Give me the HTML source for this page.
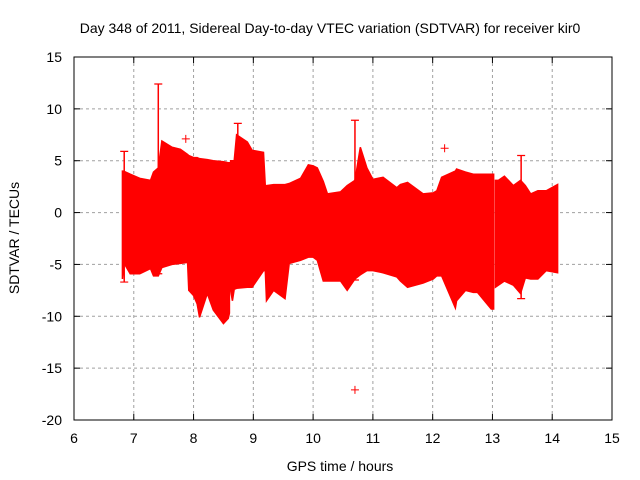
<!DOCTYPE html>
<html><head><meta charset="utf-8">
<style>
body{margin:0;background:#fff;}
svg{display:block;font-family:"Liberation Sans",Arial,sans-serif;}
</style></head>
<body>
<svg id="chart" width="640" height="480" viewBox="0 0 640 480" xmlns="http://www.w3.org/2000/svg">
<rect x="0" y="0" width="640" height="480" fill="#fff"/>
<text x="330" y="33" font-size="14" text-anchor="middle" fill="#000">Day 348 of 2011, Sidereal Day-to-day VTEC variation (SDTVAR) for receiver kir0</text>
<text x="340" y="471" font-size="14" text-anchor="middle" fill="#000">GPS time / hours</text>
<text x="19" y="238" font-size="14" text-anchor="middle" fill="#000" transform="rotate(-90 19 238)">SDTVAR / TECUs</text>
<g id="grid"></g>
<g id="ticks"></g>
<g id="data"></g>
<rect x="74" y="57" width="538" height="363" fill="none" stroke="#000" stroke-width="1"/>
</svg>
<script>
const xTicks=[6,7,8,9,10,11,12,13,14,15];
const yTicks=[15,10,5,0,-5,-10,-15,-20];
const times=[6.81,6.83,6.94,7.1,7.28,7.33,7.41,7.47,7.64,7.78,7.9,7.92,8.0,8.06,8.1,8.23,8.33,8.5,8.58,8.6,
8.62,8.65,8.68,8.72,8.9,8.98,9.17,9.2,9.22,9.34,9.53,9.6,9.79,9.92,10.0,10.07,10.17,10.24,10.46,10.57,10.7,10.79,10.9,11.0,11.17,11.4,11.46,11.58,11.84,12.01,12.07,12.15,12.38,12.4,12.55,12.68,12.75,12.98,13.02,
13.05,13.1,13.2,13.35,13.47,13.55,13.64,13.76,13.9,14.09];
const upper=[4.0,4.0,3.7,3.3,3.1,3.9,4.3,6.9,6.3,6.1,5.6,5.5,5.3,5.3,5.2,5.1,5.0,4.9,4.8,4.8,
5.0,5.0,5.0,7.5,6.8,6.0,5.8,2.6,2.6,2.7,2.7,2.8,3.3,4.6,4.5,4.3,3.0,1.8,2.0,2.6,3.1,6.3,4.3,3.2,3.4,2.4,2.7,2.9,1.8,1.9,2.1,3.4,4.0,4.2,3.9,3.7,3.7,3.7,3.7,
3.1,3.1,3.5,2.6,3.1,2.6,1.8,2.1,2.1,2.7];
const lower=[-6.4,-4.8,-5.9,-5.9,-5.4,-6.1,-6.1,-5.3,-5.0,-4.9,-4.8,-7.5,-8.0,-8.8,-10.1,-7.8,-9.4,-10.7,-10.2,-9.7,
-7.5,-8.5,-7.4,-7.3,-7.2,-7.2,-5.6,-5.6,-8.5,-7.5,-8.3,-4.9,-4.6,-4.3,-4.3,-4.6,-6.6,-6.6,-6.6,-7.5,-6.4,-6.0,-5.6,-5.6,-5.8,-6.2,-6.6,-7.2,-6.8,-6.4,-6.1,-6.1,-9.2,-8.5,-7.5,-7.7,-7.7,-9.3,-9.3,
-7.2,-7.0,-6.6,-7.0,-7.8,-6.3,-6.4,-6.4,-5.6,-5.8];
const gaps=[8.6,13.02];
const spikeX=[6.84,7.41,8.74,10.7,13.48];
const spikeTop=[5.9,12.4,8.6,8.9,5.5];
const spikeBottom=[-6.7,-5.9,-6.0,-6.5,-8.3];
const outX=[7.87,12.2,10.7];
const outY=[7.1,6.2,-17.1];

const X=v=>74+(v-6)*(538/9);
const Y=v=>57+(15-v)*(363/35);
const NS="http://www.w3.org/2000/svg";
function mk(tag,attrs,parent){const e=document.createElementNS(NS,tag);for(const k in attrs)e.setAttribute(k,attrs[k]);parent.appendChild(e);return e;}
const grid=document.getElementById('grid'),ticks=document.getElementById('ticks'),data=document.getElementById('data');
xTicks.forEach(t=>{
  if(t>6&&t<15){const g=mk('line',{x1:X(t),x2:X(t),y1:57,y2:420,stroke:'#a0a0a0','stroke-dasharray':'3,3','stroke-width':1},grid);
  
  }
  const tk=mk('line',{x1:X(t),x2:X(t),y1:420,y2:414,stroke:'#000'},ticks);
  
  
  const tk2=mk('line',{x1:X(t),x2:X(t),y1:57,y2:63,stroke:'#000'},ticks);
  
  
  const l=mk('text',{x:X(t),y:443,'font-size':14,'text-anchor':'middle',fill:'#000'},ticks);l.textContent=t;
  
  
});
yTicks.forEach(t=>{
  if(t<15&&t>-20){const g=mk('line',{x1:74,x2:612,y1:Y(t),y2:Y(t),stroke:'#a0a0a0','stroke-dasharray':'3,3','stroke-width':1},grid);
  
  }
  const tk=mk('line',{x1:74,x2:80,y1:Y(t),y2:Y(t),stroke:'#000'},ticks);
  
  
  const tk2=mk('line',{x1:606,x2:612,y1:Y(t),y2:Y(t),stroke:'#000'},ticks);
  
  
  const l=mk('text',{x:62,y:Y(t)+5,'font-size':14,'text-anchor':'end',fill:'#000'},ticks);l.textContent=t;
  
  
});
// split into segments at gaps
let segs=[[]];
for(let i=0;i<times.length;i++){
  segs[segs.length-1].push(i);
  if(gaps.includes(times[i]))segs.push([]);
}
segs.forEach(s=>{
  if(s.length<2)return;
  let pts=s.map(i=>X(times[i])+','+Y(upper[i]));
  pts=pts.concat(s.slice().reverse().map(i=>X(times[i])+','+Y(lower[i])));
  const p=mk('polygon',{points:pts.join(' '),fill:'#ff0000',stroke:'#ff0000','stroke-width':1.5},data);
  
  
});
spikeX.forEach((x,i)=>{
  const l=mk('line',{x1:X(x),x2:X(x),y1:Y(spikeTop[i]),y2:Y(spikeBottom[i]),stroke:'#ff0000','stroke-width':1.5},data);
  
  
  const c=mk('path',{d:`M${X(x)-4},${Y(spikeTop[i])}h8M${X(x)-4},${Y(spikeBottom[i])}h8`,stroke:'#ff0000','stroke-width':1.2},data);
  
  
});
outX.forEach((x,i)=>{
  const px=X(x),py=Y(outY[i]);
  const p=mk('path',{d:`M${px-4},${py}h8M${px},${py-4}v8`,stroke:'#ff0000','stroke-width':1},data);
  
  
});
</script>
</body></html>
